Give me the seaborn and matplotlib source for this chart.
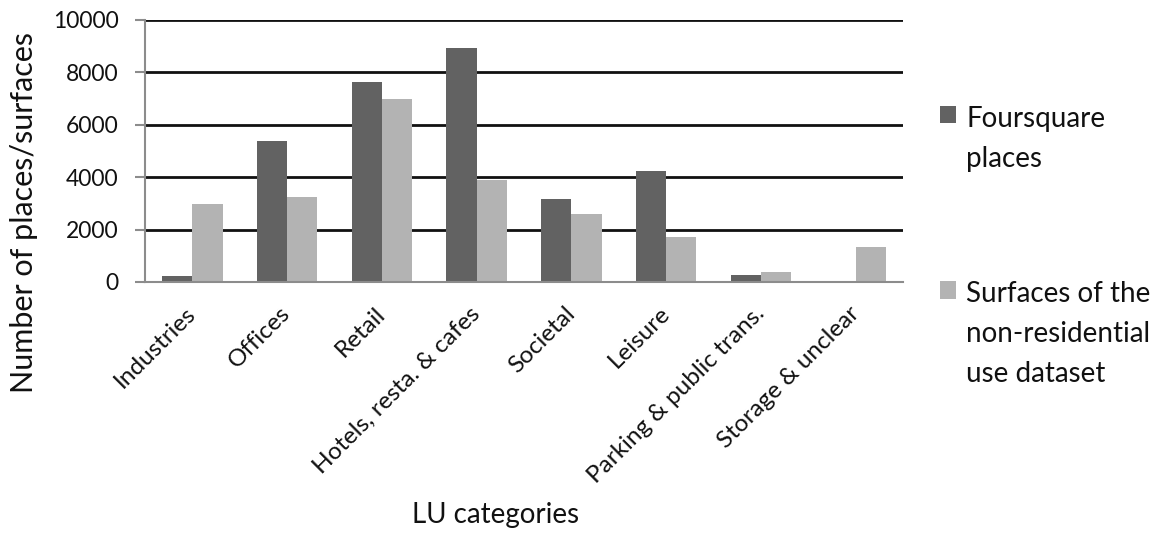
import matplotlib
matplotlib.use("Agg")
import matplotlib.pyplot as plt
import seaborn as sns
import pandas as pd

categories = ["Industries", "Offices", "Retail", "Hotels, resta. & cafes",
              "Societal", "Leisure", "Parking & public trans.", "Storage & unclear"]
foursquare_places = [230, 5400, 7650, 8930, 3170, 4230, 280, 0]
nonres_surfaces = [2980, 3260, 6990, 3890, 2600, 1710, 380, 1350]
series_names = ["Foursquare\nplaces", "Surfaces of the\nnon-residential\nuse dataset"]
y_ticks = [0, 2000, 4000, 6000, 8000, 10000]

df = pd.DataFrame({
    "category": categories * 2,
    "value": foursquare_places + nonres_surfaces,
    "series": [series_names[0]] * len(categories) + [series_names[1]] * len(categories),
})

sns.set_theme(style="white")
plt.rcParams["font.family"] = ["Lato", "DejaVu Sans"]

W, H = 1176, 534
fig = plt.figure(figsize=(W / 100, H / 100), dpi=100)
ax = fig.add_axes([145 / W, 1 - 282 / H, (903 - 145) / W, (282 - 20) / H])

sns.barplot(data=df, x="category", y="value", hue="series", ax=ax,
            palette=["#626262", "#b3b3b3"], width=0.64, saturation=1,
            edgecolor="none", linewidth=0, zorder=3)

ax.set_ylim(0, 10000)
ax.set_xlim(-0.5, len(categories) - 0.5)
ax.set_yticks(y_ticks)
ax.set_yticklabels([str(v) for v in y_ticks], fontsize=16.5, color="#111111")
for v in y_ticks[1:]:
    ax.axhline(v, color="#111111", linewidth=2, zorder=1)

for side in ["top", "right"]:
    ax.spines[side].set_visible(False)
for side in ["left", "bottom"]:
    ax.spines[side].set_color("#8c8c8c")
    ax.spines[side].set_linewidth(1.5)
    ax.spines[side].set_zorder(4)

ax.tick_params(axis="y", left=True, length=7, width=1.5, color="#8c8c8c", pad=12)
ax.tick_params(axis="x", bottom=False, length=0, pad=10)
ax.set_xticks(range(len(categories)))
ax.set_xticklabels(categories, fontsize=17.5, rotation=45, ha="right",
                   va="center", rotation_mode="anchor", color="#111111")
for lab in ax.get_xticklabels():
    lab.set_y(-0.055)

ax.set_xlabel("LU categories", fontsize=20, color="#111111")
ax.xaxis.set_label_coords(0.462, -0.89)
ax.xaxis.label.set_va("center")
ax.set_ylabel("Number of places/surfaces", fontsize=22, color="#111111")
ax.yaxis.set_label_coords(-0.16, 0.267)
ax.yaxis.label.set_va("center")

handles, labels = ax.get_legend_handles_labels()
if ax.get_legend() is not None:
    ax.get_legend().remove()
leg = fig.legend(handles, labels, loc="upper left",
                 bbox_to_anchor=(940 / W, 1 - 106 / H), bbox_transform=fig.transFigure,
                 frameon=False, fontsize=20, handlelength=0.58, handleheight=0.58,
                 handletextpad=0.36, labelspacing=3.95, borderpad=0, borderaxespad=0)
for t in leg.get_texts():
    t.set_linespacing(1.65)
    t.set_color("#111111")
# put each swatch level with the first line of its label
for column in leg._legend_handle_box.get_children():
    for item in column.get_children():
        item.align = "top"

fig.savefig("out.png", dpi=100)
